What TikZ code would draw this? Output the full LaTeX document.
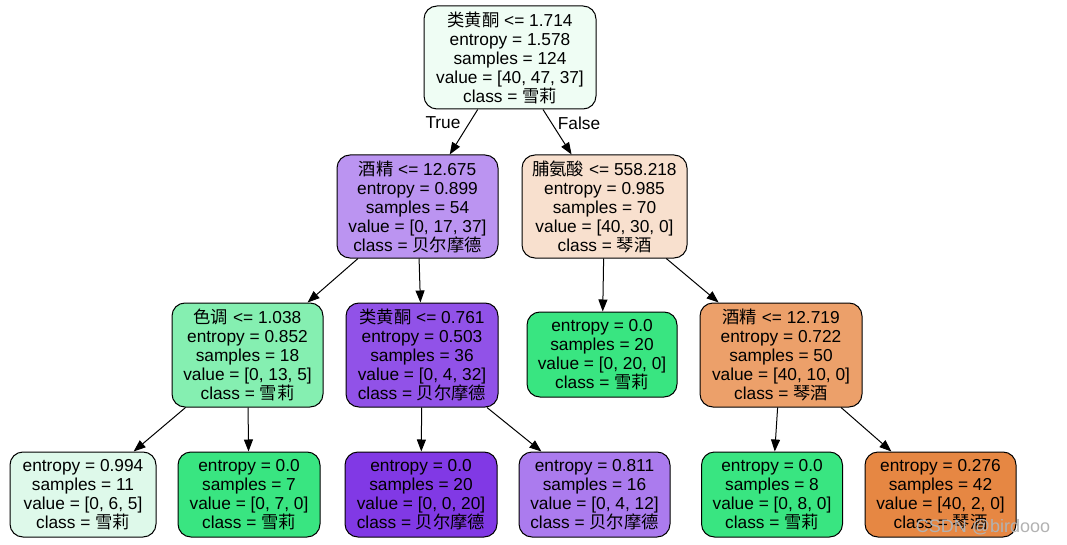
\documentclass[tikz,border=0pt]{standalone}
\usepackage{fontspec}
\setmainfont{Liberation Sans}
\newfontfamily\cjk{Noto Sans CJK SC}
\usetikzlibrary{arrows.meta}
\newcommand{\zh}[1]{{\cjk #1}}
\definecolor{cRoot}{HTML}{EFFDF4}
\definecolor{cLa}{HTML}{BB94F1}
\definecolor{cLb}{HTML}{F8E0CE}
\definecolor{cMa}{HTML}{85EFB1}
\definecolor{cMb}{HTML}{9152E8}
\definecolor{cGreen}{HTML}{39E581}
\definecolor{cMd}{HTML}{ECA06A}
\definecolor{cSa}{HTML}{DEF9EA}
\definecolor{cPurple}{HTML}{8139E5}
\definecolor{cSd}{HTML}{AB7BEE}
\definecolor{cSf}{HTML}{E68743}
\tikzset{
  treenode/.style={draw=black, line width=1pt, rounded corners=13pt, align=center,
    inner sep=0pt, font=\fontsize{17.3}{19}\selectfont, text=black},
  conn/.style={draw=black, line width=1pt, -{Triangle[length=12pt,width=9pt]}},
  lbl/.style={font=\fontsize{17.3}{19}\selectfont, text=black, inner sep=0pt},
}
\begin{document}
\begin{tikzpicture}[x=1pt,y=-1pt]
\useasboundingbox (0,0) rectangle (1067,545);
% level 0
\node[treenode, fill=cRoot, minimum width=172pt, minimum height=103pt] (root) at (510,57.5)
  {\zh{类黄酮} <= 1.714\\entropy = 1.578\\samples = 124\\value = [40, 47, 37]\\class = \zh{雪莉}};
% level 1
\node[treenode, fill=cLa, minimum width=161pt, minimum height=103pt] (la) at (417.5,206.5)
  {\zh{酒精} <= 12.675\\entropy = 0.899\\samples = 54\\value = [0, 17, 37]\\class = \zh{贝尔摩德}};
\node[treenode, fill=cLb, minimum width=165pt, minimum height=103pt] (lb) at (604.5,206.5)
  {\zh{脯氨酸} <= 558.218\\entropy = 0.985\\samples = 70\\value = [40, 30, 0]\\class = \zh{琴酒}};
% level 2
\node[treenode, fill=cMa, minimum width=151pt, minimum height=104pt] (ma) at (247.5,355)
  {\zh{色调} <= 1.038\\entropy = 0.852\\samples = 18\\value = [0, 13, 5]\\class = \zh{雪莉}};
\node[treenode, fill=cMb, minimum width=152pt, minimum height=104pt] (mb) at (422,355)
  {\zh{类黄酮} <= 0.761\\entropy = 0.503\\samples = 36\\value = [0, 4, 32]\\class = \zh{贝尔摩德}};
\node[treenode, fill=cGreen, minimum width=150pt, minimum height=85pt] (mc) at (602,354.5)
  {entropy = 0.0\\samples = 20\\value = [0, 20, 0]\\class = \zh{雪莉}};
\node[treenode, fill=cMd, minimum width=162pt, minimum height=104pt] (md) at (781,355)
  {\zh{酒精} <= 12.719\\entropy = 0.722\\samples = 50\\value = [40, 10, 0]\\class = \zh{琴酒}};
% level 3
\node[treenode, fill=cSa, minimum width=146pt, minimum height=85pt] (sa) at (83,494.5)
  {entropy = 0.994\\samples = 11\\value = [0, 6, 5]\\class = \zh{雪莉}};
\node[treenode, fill=cGreen, minimum width=142pt, minimum height=85pt] (sb) at (249,494.5)
  {entropy = 0.0\\samples = 7\\value = [0, 7, 0]\\class = \zh{雪莉}};
\node[treenode, fill=cPurple, minimum width=152pt, minimum height=85pt] (sc) at (421,494.5)
  {entropy = 0.0\\samples = 20\\value = [0, 0, 20]\\class = \zh{贝尔摩德}};
\node[treenode, fill=cSd, minimum width=151pt, minimum height=85pt] (sd) at (594.5,494.5)
  {entropy = 0.811\\samples = 16\\value = [0, 4, 12]\\class = \zh{贝尔摩德}};
\node[treenode, fill=cGreen, minimum width=141pt, minimum height=85pt] (se) at (772,494.5)
  {entropy = 0.0\\samples = 8\\value = [0, 8, 0]\\class = \zh{雪莉}};
\node[treenode, fill=cSf, minimum width=151pt, minimum height=85pt] (sf) at (940.5,494.5)
  {entropy = 0.276\\samples = 42\\value = [40, 2, 0]\\class = \zh{琴酒}};
% connectors
\draw[conn] (root) -- (la);
\draw[conn] (root) -- (lb);
\draw[conn] (la) -- (ma);
\draw[conn] (la) -- (mb);
\draw[conn] (lb) -- (mc);
\draw[conn] (lb) -- (md);
\draw[conn] (ma) -- (sa);
\draw[conn] (ma) -- (sb);
\draw[conn] (mb) -- (sc);
\draw[conn] (mb) -- (sd);
\draw[conn] (md) -- (se);
\draw[conn] (md) -- (sf);
% edge labels
\node[lbl] (ltrue) at (443,123) {True};
\node[lbl] (lfalse) at (579,123) {False};
% watermark
\node[lbl, text=gray!60, font=\fontsize{18}{20}\selectfont] (wm) at (983,527) {CSDN @birdooo};
\end{tikzpicture}
\end{document}
